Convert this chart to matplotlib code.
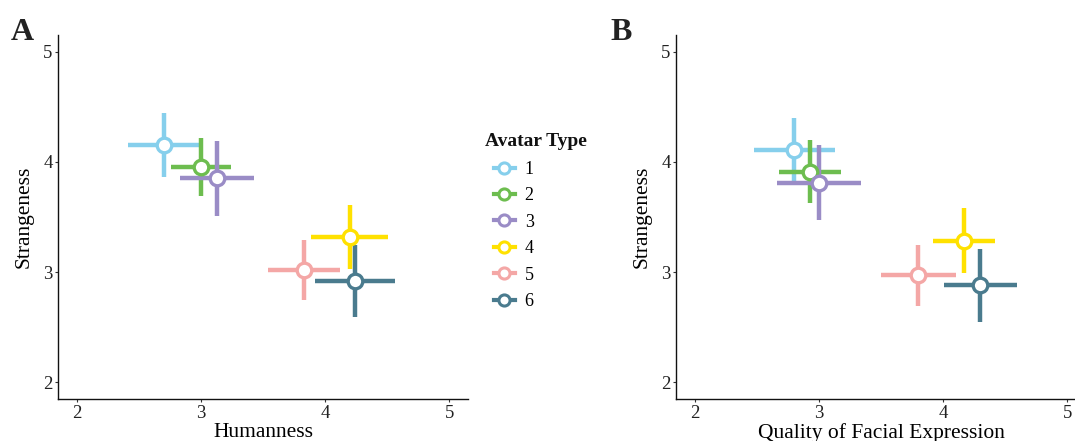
import matplotlib.pyplot as plt
from matplotlib.lines import Line2D

plt.rcParams['font.family'] = ['Liberation Serif', 'DejaVu Serif']

avatar_types = ["1", "2", "3", "4", "5", "6"]
colors = ["#86cfec", "#6dbd4f", "#9a8cc6", "#ffe100", "#f4a7a6", "#4a7b8e"]

# panel A: humanness vs strangeness (means and error half-widths)
hum_x = [2.70, 3.00, 3.13, 4.20, 3.83, 4.24]
hum_xerr = [0.285, 0.24, 0.30, 0.31, 0.29, 0.32]
hum_y = [4.15, 3.955, 3.85, 3.32, 3.02, 2.92]
hum_yerr = [0.29, 0.265, 0.34, 0.29, 0.27, 0.33]

# panel B: quality of facial expression vs strangeness
qfe_x = [2.80, 2.93, 3.00, 4.17, 3.80, 4.30]
qfe_xerr = [0.325, 0.25, 0.34, 0.25, 0.30, 0.295]
qfe_y = [4.11, 3.91, 3.81, 3.285, 2.97, 2.88]
qfe_yerr = [0.29, 0.285, 0.34, 0.295, 0.275, 0.33]

ticks = [2, 3, 4, 5]

fig = plt.figure(figsize=(10.75, 4.41), dpi=100)
axA = fig.add_axes([0.0542, 0.0952, 0.381, 0.8254])
axB = fig.add_axes([0.6291, 0.0952, 0.381, 0.8254])


def draw_panel(ax, xs, xerrs, ys, yerrs, xlabel):
    for i in range(len(xs)):
        ax.errorbar(xs[i], ys[i], xerr=xerrs[i], yerr=yerrs[i], fmt='o',
                    color=colors[i], ecolor=colors[i], elinewidth=3.2,
                    capsize=0, ms=10.5, mfc='white', mec=colors[i], mew=2.4)
    ax.set_xlim(1.85, 5.15)
    ax.set_ylim(1.85, 5.15)
    ax.set_xticks(ticks)
    ax.set_yticks(ticks)
    ax.tick_params(labelsize=13.5, length=2.5, width=0.8, pad=1.5,
                   colors='#333333', labelcolor='#222222')
    for side in ['top', 'right']:
        ax.spines[side].set_visible(False)
    for side in ['left', 'bottom']:
        ax.spines[side].set_color('#111111')
        ax.spines[side].set_linewidth(1.0)
    ax.set_xlabel(xlabel, fontsize=15.5, labelpad=1)
    ax.set_ylabel("Strangeness", fontsize=15.5, labelpad=7)


draw_panel(axA, hum_x, hum_xerr, hum_y, hum_yerr, "Humanness")
draw_panel(axB, qfe_x, qfe_xerr, qfe_y, qfe_yerr, "Quality of Facial Expression")

fig.text(0.010, 0.910, "A", fontsize=23, fontweight='bold', color='#222222')
fig.text(0.568, 0.910, "B", fontsize=23, fontweight='bold', color='#222222')

# legend: title as separate text so the keys sit indented under it
fig.text(0.451, 0.679, "Avatar Type", fontsize=14, fontweight='bold',
         color='#111111', va='center', ha='left')
handles = [Line2D([0], [0], color=c, lw=3, marker='o', ms=8, mfc='white',
                  mec=c, mew=2.2) for c in colors]
leg = fig.legend(handles, avatar_types, frameon=False,
                 loc='upper left', bbox_to_anchor=(0.4595, 0.635),
                 borderaxespad=0, borderpad=0,
                 fontsize=13, handlelength=1.15,
                 labelspacing=0.52, handletextpad=0.55)

fig.savefig("out.png", dpi=100)
